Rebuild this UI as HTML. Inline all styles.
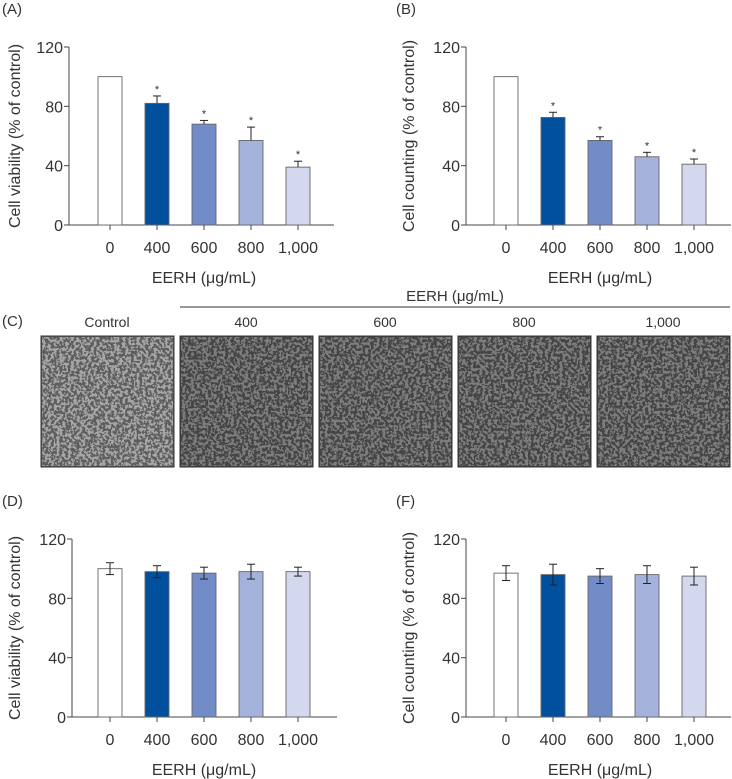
<!DOCTYPE html>
<html><head><meta charset="utf-8"><style>
html,body{margin:0;padding:0;background:#fff;width:732px;height:779px;overflow:hidden}
svg text{font-family:"Liberation Sans",sans-serif;fill:#333}
</style></head><body>
<svg id="fig" width="732" height="779" viewBox="0 0 732 779" xmlns="http://www.w3.org/2000/svg">
<defs>
<filter id="cells" x="0" y="0" width="100%" height="100%">
<feTurbulence type="fractalNoise" baseFrequency="0.35" numOctaves="2" seed="3" result="n"/>
<feColorMatrix type="matrix" values="0 0 0 0 1  0 0 0 0 1  0 0 0 0 1  -12 0 0 0 6.4" in="n" result="s"/>
<feComposite in="s" in2="SourceGraphic" operator="in"/>
</filter>
</defs>
<g id="photos"></g>
</svg>
<script>
const NS="http://www.w3.org/2000/svg";
const svg=document.getElementById('fig');
const categories=["0","400","600","800","1,000"];
const yTicks=[0,40,80,120];
const colors=["#ffffff","#00509e","#718cc6","#a4b2dc","#d3d8ee"];
const valuesA=[100,82,68,57,39];
const errA=[0,5,2.5,9,4];
const valuesB=[100,72.5,57,46,41];
const errB=[0,3.5,2.5,3,3.5];
const valuesD=[100,98,97,98,98];
const errD=[4,4,4,5,3];
const valuesF=[97,96,95,96,95];
const errF=[5,7,5,6,6];
const photoLabels=["Control","400","600","800","1,000"];

function el(tag,attrs,parent){const e=document.createElementNS(NS,tag);for(const k in attrs)e.setAttribute(k,attrs[k]);(parent||svg).appendChild(e);return e;}

function chart(o){
  const g=el('g',{});
  
  
  const ax=o.axisX, y0=o.y0, H=178, ymax=120;
  const Y=v=>y0-v/ymax*H;
  const X=i=>o.firstX+i*47;
  const lbl=el('text',{x:o.labelX,y:o.labelY,'font-size':15},g);lbl.textContent=o.letter;
  
  
  const ya=el('line',{x1:ax,y1:Y(ymax),x2:ax,y2:y0,stroke:'#444','stroke-width':1},g);
  
  
  yTicks.forEach(t=>{
    el('line',{x1:ax-5,x2:ax,y1:Y(t),y2:Y(t),stroke:'#444'},g);
    const tx=el('text',{x:ax-6,y:Y(t)+6,'font-size':16,'text-anchor':'end'},g);tx.textContent=t;
    
    
  });
  const xa=el('line',{x1:ax,y1:y0,x2:ax+265,y2:y0,stroke:'#444'},g);
  
  
  categories.forEach((c,i)=>{
    const cx=X(i),v=o.values[i],e=o.err[i];
    const b=el('rect',{x:cx-12,y:Y(v),width:24,height:y0-Y(v),fill:colors[i],stroke:'#666','stroke-width':0.9},g);
    
    
    if(e>0){
      el('line',{x1:cx,x2:cx,y1:Y(v+e),y2:o.both?Y(v-e):Y(v),stroke:'#222'},g);
      el('line',{x1:cx-4,x2:cx+4,y1:Y(v+e),y2:Y(v+e),stroke:'#222'},g);
      if(o.both) el('line',{x1:cx-4,x2:cx+4,y1:Y(v-e),y2:Y(v-e),stroke:'#222'},g);
    }
    if(o.star&&i>0){const s=el('text',{x:cx,y:Y(v+e)-3,'font-size':11,'text-anchor':'middle'},g);s.textContent='*';
      
      }
    el('line',{x1:cx,x2:cx,y1:y0,y2:y0+5,stroke:'#444'},g);
    const t=el('text',{x:cx,y:y0+28,'font-size':16,'text-anchor':'middle'},g);t.textContent=c;
    
    
  });
  const xt=el('text',{x:o.firstX+94,y:y0+58,'font-size':16,'text-anchor':'middle'},g);xt.textContent='EERH (μg/mL)';
  
  
  const yt=el('text',{x:0,y:0,'font-size':16,'text-anchor':'middle',transform:`translate(${o.titleX},${Y(60)}) rotate(-90)`},g);yt.textContent=o.ytitle;
  
  
}
chart({name:'chart-a',letter:'(A)',labelX:2,labelY:14,axisX:69,y0:225,firstX:110,values:valuesA,err:errA,star:true,both:false,titleX:20,ytitle:'Cell viability (% of control)'});
chart({name:'chart-b',letter:'(B)',labelX:396,labelY:14,axisX:466,y0:225,firstX:506,values:valuesB,err:errB,star:true,both:false,titleX:414,ytitle:'Cell counting (% of control)'});
chart({name:'chart-d',letter:'(D)',labelX:2,labelY:506,axisX:72,y0:717,firstX:110,values:valuesD,err:errD,star:false,both:true,titleX:20,ytitle:'Cell viability (% of control)'});
chart({name:'chart-f',letter:'(F)',labelX:396,labelY:506,axisX:466,y0:717,firstX:506,values:valuesF,err:errF,star:false,both:true,titleX:414,ytitle:'Cell counting (% of control)'});

const pg=document.getElementById('photos');
const cl=el('text',{x:2,y:326,'font-size':15},pg);cl.textContent='(C)';


const hdr=el('text',{x:455,y:301,'font-size':15,'text-anchor':'middle'},pg);hdr.textContent='EERH (μg/mL)';


el('line',{x1:180,x2:730,y1:307,y2:307,stroke:'#333'},pg);
const px=[41,180,319,458,597];
photoLabels.forEach((l,i)=>{
  const t=el('text',{x:px[i]+66,y:327,'font-size':14,'text-anchor':'middle'},pg);t.textContent=l;
  
  
  const r=el('rect',{x:px[i],y:336,width:133,height:131,fill:i==0?'#5e5e5e':'#454545',stroke:'#333','stroke-width':1},pg);
  
  
  el('rect',{x:px[i]+1,y:337,width:131,height:129,fill:'#000',filter:'url(#cells)',opacity:i==0?0.45:0.3},pg);
});
</script>
</body></html>
